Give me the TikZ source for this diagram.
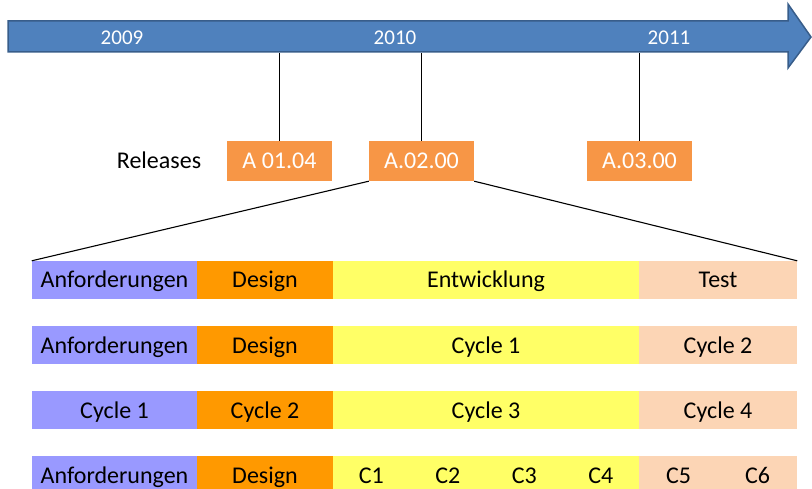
\documentclass[tikz,border=0pt]{standalone}
\usepackage{fontspec}
\setmainfont{Carlito}
\definecolor{arrowblue}{HTML}{4F81BD}
\definecolor{arrowedge}{HTML}{385D8A}
\definecolor{relorange}{HTML}{F79646}
\definecolor{cpurple}{HTML}{9999FF}
\definecolor{corange}{HTML}{FF9900}
\definecolor{cyellow}{HTML}{FFFF66}
\definecolor{cpeach}{HTML}{FCD5B5}
\tikzset{
  cell/.style={rectangle, inner sep=0pt, minimum height=38pt, text height=20pt, text depth=4pt, font=\fontsize{24}{26}\selectfont, text=black},
  relbox/.style={rectangle, fill=relorange, inner sep=0pt, minimum width=105pt, minimum height=40pt, text height=20pt, text depth=4pt, font=\fontsize{24}{26}\selectfont, text=white},
  yearlabel/.style={anchor=base, inner sep=0pt, font=\fontsize{21}{23}\selectfont, text=white},
  link/.style={draw=black, line width=1.4pt}
}
\begin{document}
\begin{tikzpicture}[x=1pt,y=-1pt]
\useasboundingbox (0,0) rectangle (812,489);
% timeline arrow
\draw[fill=arrowblue, draw=arrowedge, line width=1.5pt, line join=miter]
  (8,21) -- (788,21) -- (788,4) -- (811,37) -- (788,68) -- (788,52) -- (8,52) -- cycle;
\node[yearlabel] (y1) at (122,45) {2009};
\node[yearlabel] (y2) at (395,45) {2010};
\node[yearlabel] (y3) at (669,45) {2011};
\coordinate (t1) at (279.5,53);
\coordinate (t2) at (421.5,53);
\coordinate (t3) at (639.5,53);
% releases
\node[anchor=base, inner sep=0pt, font=\fontsize{24}{26}\selectfont] (rl) at (159,169) {Releases};
\node[relbox] (r1) at (279.5,161) {A 01.04};
\node[relbox] (r2) at (421.5,161) {A.02.00};
\node[relbox] (r3) at (639.5,161) {A.03.00};
\draw[link] (t1) -- (r1.north);
\draw[link] (t2) -- (r2.north);
\draw[link] (t3) -- (r3.north);
% row 1
\node[cell, fill=cpurple, minimum width=165pt] (a1) at (114.5,280) {Anforderungen};
\node[cell, fill=corange, minimum width=136pt] (a2) at (265,280) {Design};
\node[cell, fill=cyellow, minimum width=306pt] (a3) at (486,280) {Entwicklung};
\node[cell, fill=cpeach, minimum width=158pt] (a4) at (718,280) {Test};
% row 2
\node[cell, fill=cpurple, minimum width=165pt] (b1) at (114.5,345) {Anforderungen};
\node[cell, fill=corange, minimum width=136pt] (b2) at (265,345) {Design};
\node[cell, fill=cyellow, minimum width=306pt] (b3) at (486,345) {Cycle 1};
\node[cell, fill=cpeach, minimum width=158pt] (b4) at (718,345) {Cycle 2};
% row 3
\node[cell, fill=cpurple, minimum width=165pt] (c1) at (114.5,410) {Cycle 1};
\node[cell, fill=corange, minimum width=136pt] (c2) at (265,410) {Cycle 2};
\node[cell, fill=cyellow, minimum width=306pt] (c3) at (486,410) {Cycle 3};
\node[cell, fill=cpeach, minimum width=158pt] (c4) at (718,410) {Cycle 4};
% row 4
\node[cell, fill=cpurple, minimum width=165pt] (d1) at (114.5,475) {Anforderungen};
\node[cell, fill=corange, minimum width=136pt] (d2) at (265,475) {Design};
\node[cell, fill=cyellow, minimum width=76.6pt] (d3) at (371.25,475) {C1};
\node[cell, fill=cyellow, minimum width=76.6pt] (d4) at (447.75,475) {C2};
\node[cell, fill=cyellow, minimum width=76.6pt] (d5) at (524.25,475) {C3};
\node[cell, fill=cyellow, minimum width=76.6pt] (d6) at (600.75,475) {C4};
\node[cell, fill=cpeach, minimum width=79.1pt] (d7) at (678.5,475) {C5};
\node[cell, fill=cpeach, minimum width=79.1pt] (d8) at (757.5,475) {C6};
% zoom lines
\draw[link, line width=1.1pt] (r2.south west) -- (a1.north west);
\draw[link, line width=1.1pt] (r2.south east) -- (a4.north east);
\end{tikzpicture}
\end{document}
